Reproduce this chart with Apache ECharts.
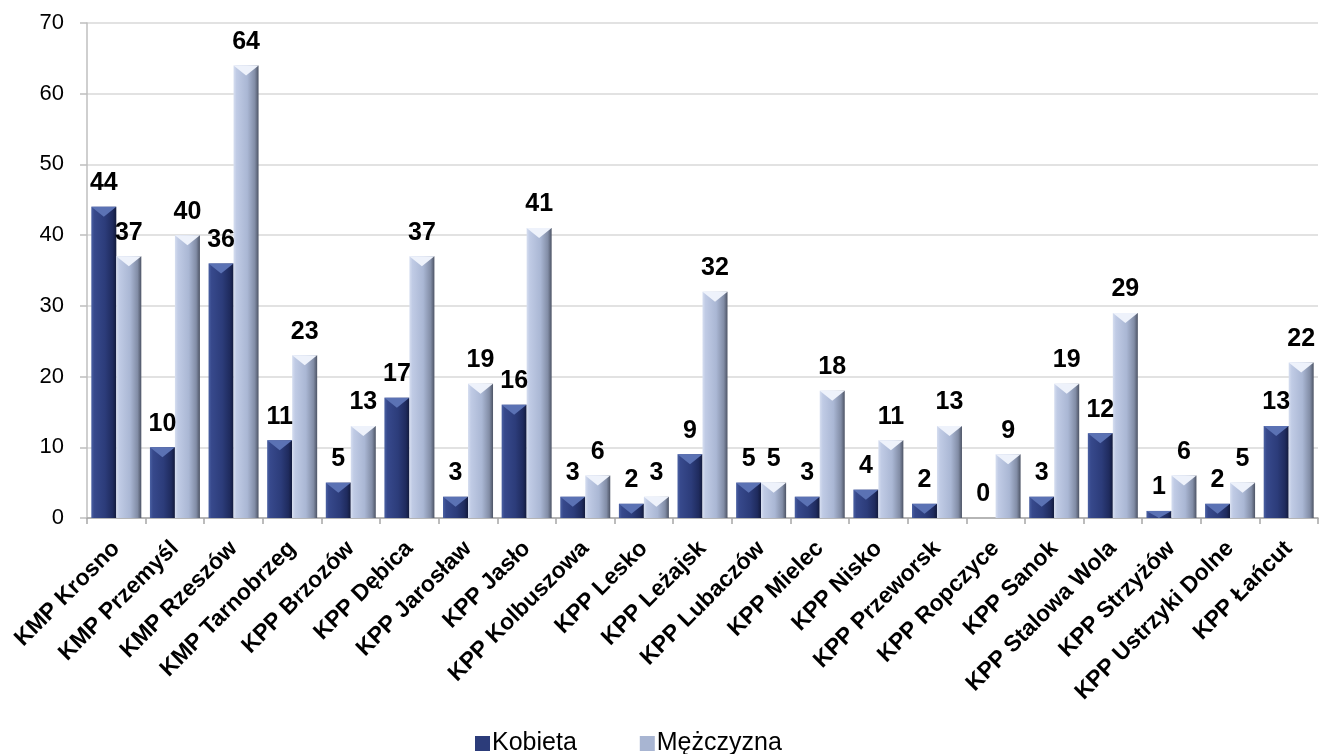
<!DOCTYPE html>
<html>
<head>
<meta charset="utf-8">
<script src="https://cdn.jsdelivr.net/npm/echarts@6/dist/echarts.min.js"></script>
<style>
  html, body { margin: 0; padding: 0; background: #fff; }
  #chart { width: 1320px; height: 754px; }
</style>
</head>
<body>
<div id="chart"></div>
<script>
// Units (KMP / KPP) and counts per sex
const categories = [
  'KMP Krosno', 'KMP Przemyśl', 'KMP Rzeszów', 'KMP Tarnobrzeg', 'KPP Brzozów',
  'KPP Dębica', 'KPP Jarosław', 'KPP Jasło', 'KPP Kolbuszowa', 'KPP Lesko',
  'KPP Leżajsk', 'KPP Lubaczów', 'KPP Mielec', 'KPP Nisko', 'KPP Przeworsk',
  'KPP Ropczyce', 'KPP Sanok', 'KPP Stalowa Wola', 'KPP Strzyżów',
  'KPP Ustrzyki Dolne', 'KPP Łańcut'
];
const kobieta = [44, 10, 36, 11, 5, 17, 3, 16, 3, 2, 9, 5, 3, 4, 2, 0, 3, 12, 1, 2, 13];
const mezczyzna = [37, 40, 64, 23, 13, 37, 19, 41, 6, 3, 32, 5, 18, 11, 13, 9, 19, 29, 6, 5, 22];
const seriesNames = ['Kobieta', 'Mężczyzna'];

const FONT = 'Liberation Sans, Arial, sans-serif';
const BAR_W = 25;
const GRID = { left: 87, right: 2, top: 23, bottom: 236 };
const Y_MAX = 70;
// pixels per unit on the value axis, used to keep the top facet inside short bars
const pxPerUnit = (754 - GRID.top - GRID.bottom) / Y_MAX;

// Horizontal gradients give the bars a bevelled, cylindrical look
function bevel(stops) {
  return new echarts.graphic.LinearGradient(0, 0, 1, 0,
    stops.map(([offset, color]) => ({ offset, color })));
}
const darkFill = bevel([[0, '#4b61a3'], [0.12, '#37498c'], [0.55, '#2c3c7a'], [0.85, '#1f2b5e'], [1, '#121a3c']]);
const lightFill = bevel([[0, '#d6def0'], [0.12, '#c0cbe5'], [0.55, '#aab7d4'], [0.85, '#828da6'], [1, '#4d5465']]);

const labelStyle = {
  show: true,
  position: 'top',
  distance: 11,
  color: '#000',
  fontFamily: FONT,
  fontWeight: 'bold',
  fontSize: 25
};

// Small down-pointing facet at the top of each bar (skipped for empty bars)
const facet = 'path://M0,0 L10,0 L5,4 Z';
function facetSeries(values, offsetX, color) {
  return {
    type: 'pictorialBar',
    data: values.map(v => (v > 0
      ? { value: v, symbolSize: [BAR_W, Math.min(10, v * pxPerUnit)] }
      : null)),
    symbol: facet,
    symbolPosition: 'end',
    symbolOffset: [offsetX, 0],
    barGap: '-100%',
    itemStyle: { color },
    silent: true,
    z: 3,
    legendHoverLink: false
  };
}

const chart = echarts.init(document.getElementById('chart'), null, { renderer: 'canvas' });
chart.setOption({
  animation: false,
  backgroundColor: '#fff',
  textStyle: { fontFamily: FONT },
  grid: Object.assign({ containLabel: false }, GRID),
  legend: {
    bottom: -7,
    left: 470,
    itemWidth: 15,
    itemHeight: 15,
    itemGap: 63,
    icon: 'rect',
    textStyle: { fontSize: 25, color: '#000', fontFamily: FONT, padding: [0, 0, 0, -3] },
    data: [
      { name: seriesNames[0], itemStyle: { color: '#2c3c7a' } },
      { name: seriesNames[1], itemStyle: { color: '#a8b5d2' } }
    ]
  },
  xAxis: {
    type: 'category',
    data: categories,
    axisLine: { lineStyle: { color: '#a6a6a6', width: 1.5 } },
    axisTick: { show: true, length: 6, lineStyle: { color: '#a6a6a6', width: 1.5 } },
    axisLabel: {
      interval: 0,
      rotate: 45,
      color: '#000',
      fontWeight: 'bold',
      fontSize: 23,
      margin: 27,
      fontFamily: FONT
    }
  },
  yAxis: {
    type: 'value',
    min: 0,
    max: Y_MAX,
    interval: 10,
    axisLine: { show: true, lineStyle: { color: '#bfbfbf', width: 1.5 } },
    axisTick: { show: true, length: 7, lineStyle: { color: '#bfbfbf', width: 1.5 } },
    splitLine: { lineStyle: { color: '#d9d9d9', width: 1.5 } },
    axisLabel: { color: '#000', fontSize: 22, margin: 23, fontFamily: FONT }
  },
  series: [
    {
      name: seriesNames[0],
      type: 'bar',
      data: kobieta,
      barWidth: BAR_W,
      barGap: '0%',
      itemStyle: { color: darkFill },
      label: labelStyle
    },
    {
      name: seriesNames[1],
      type: 'bar',
      data: mezczyzna,
      barWidth: BAR_W,
      barGap: '0%',
      itemStyle: { color: lightFill },
      label: labelStyle
    },
    facetSeries(kobieta, -BAR_W / 2, '#5b72b4'),
    facetSeries(mezczyzna, BAR_W / 2, '#eef2fb')
  ]
});
</script>
</body>
</html>
